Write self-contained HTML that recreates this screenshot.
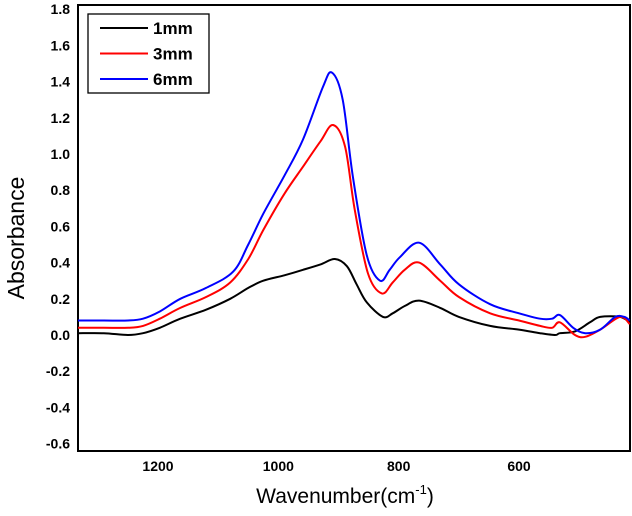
<!DOCTYPE html>
<html><head><meta charset="utf-8"><style>
body{margin:0;background:#fff}
svg{font-family:"Liberation Sans",Arial,sans-serif;display:block}
</style></head><body>
<svg id="chart" width="632" height="516">
<rect x="78" y="5" width="552" height="446" fill="none" stroke="#000" stroke-width="2"/>
<g id="yticks"></g>
<g id="xticks"></g>
<g id="series"></g>
<text x="24" y="238" font-size="23" text-anchor="middle" transform="rotate(-90 24 238)">Absorbance</text>
<text x="345" y="503" font-size="21" text-anchor="middle">Wavenumber(cm<tspan font-size="13" dy="-9">-1</tspan><tspan dy="9">)</tspan></text>
<g>
<rect x="88" y="14" width="121" height="79" fill="#fff" stroke="#000" stroke-width="1.3"/>
<g id="legend"></g>
</g>
</svg>
<script>
const yTicks=[1.8,1.6,1.4,1.2,1.0,0.8,0.6,0.4,0.2,0.0,-0.2,-0.4,-0.6];
const xTicks=[1200,1000,800,600];
const seriesNames=["1mm","3mm","6mm"];
const seriesColors=["#000","#f00","#00f"];
const wn1=[1333,1290,1250,1225,1197,1163,1120,1080,1050,1025,990,959,930,906,886,870,853,826,810,790,766,731,700,648,600,565,540,532,507,482,465,432,416];
const ab1=[0.01,0.01,0.0,0.01,0.04,0.09,0.14,0.2,0.26,0.3,0.33,0.36,0.39,0.42,0.38,0.28,0.18,0.1,0.12,0.16,0.19,0.15,0.1,0.05,0.03,0.01,0.0,0.01,0.02,0.07,0.1,0.1,0.07];
const wn3=[1333,1290,1250,1225,1197,1163,1120,1080,1050,1025,990,959,930,909,889,873,851,828,810,790,766,731,700,648,600,565,545,532,507,490,465,432,416];
const ab3=[0.04,0.04,0.04,0.05,0.09,0.15,0.21,0.29,0.42,0.58,0.78,0.93,1.07,1.16,1.04,0.69,0.34,0.23,0.29,0.36,0.4,0.3,0.21,0.12,0.08,0.05,0.04,0.07,0.0,-0.01,0.03,0.1,0.06];
const wn6=[1333,1290,1250,1225,1197,1163,1120,1075,1050,1025,990,959,926,911,893,876,853,831,815,798,766,731,700,648,600,565,545,532,510,490,465,440,425,416];
const ab6=[0.08,0.08,0.08,0.09,0.13,0.2,0.26,0.35,0.5,0.67,0.88,1.08,1.37,1.45,1.3,0.87,0.44,0.3,0.36,0.43,0.51,0.39,0.28,0.17,0.12,0.09,0.09,0.11,0.04,0.01,0.03,0.1,0.1,0.08];
const NS="http://www.w3.org/2000/svg";
const X=w=>158+(1200-w)*0.6017;
const Y=v=>335-v*181;
function smooth(pts){let d='M'+pts[0][0].toFixed(1)+','+pts[0][1].toFixed(1);
for(let i=0;i<pts.length-1;i++){const p0=pts[Math.max(i-1,0)],p1=pts[i],p2=pts[i+1],p3=pts[Math.min(i+2,pts.length-1)];
const c1=[p1[0]+(p2[0]-p0[0])/6,p1[1]+(p2[1]-p0[1])/6],c2=[p2[0]-(p3[0]-p1[0])/6,p2[1]-(p3[1]-p1[1])/6];
d+=' C'+c1.map(v=>v.toFixed(1)).join(',')+' '+c2.map(v=>v.toFixed(1)).join(',')+' '+p2.map(v=>v.toFixed(1)).join(',');}
return d;}
const yg=document.getElementById('yticks');
yTicks.forEach(v=>{const t=document.createElementNS(NS,'text');
t.setAttribute('x',70);t.setAttribute('y',Y(v)+5);t.setAttribute('text-anchor','end');
t.setAttribute('font-size','14');t.setAttribute('font-weight','bold');t.textContent=v.toFixed(1);


yg.appendChild(t);});
const xg=document.getElementById('xticks');
xTicks.forEach(v=>{const t=document.createElementNS(NS,'text');
t.setAttribute('x',X(v));t.setAttribute('y',471);t.setAttribute('text-anchor','middle');
t.setAttribute('font-size','14');t.setAttribute('font-weight','bold');t.textContent=v;


xg.appendChild(t);});
const data=[[wn1,ab1],[wn3,ab3],[wn6,ab6]];
const sg=document.getElementById('series');
data.forEach((d,i)=>{const p=document.createElementNS(NS,'path');
p.setAttribute('d',smooth(d[0].map((w,j)=>[X(w),Y(d[1][j])])));
p.setAttribute('fill','none');p.setAttribute('stroke',seriesColors[i]);p.setAttribute('stroke-width','2');
p.setAttribute('stroke-linejoin','round');


sg.appendChild(p);});
const lg=document.getElementById('legend');
seriesNames.forEach((n,i)=>{const y=28+i*25.5;
const l=document.createElementNS(NS,'line');
l.setAttribute('x1',100);l.setAttribute('x2',148);l.setAttribute('y1',y);l.setAttribute('y2',y);
l.setAttribute('stroke',seriesColors[i]);l.setAttribute('stroke-width','2');


lg.appendChild(l);
const t=document.createElementNS(NS,'text');
t.setAttribute('x',153);t.setAttribute('y',y+6);t.setAttribute('font-size','17');t.setAttribute('font-weight','bold');
t.textContent=n;


lg.appendChild(t);});
</script>
</body></html>
